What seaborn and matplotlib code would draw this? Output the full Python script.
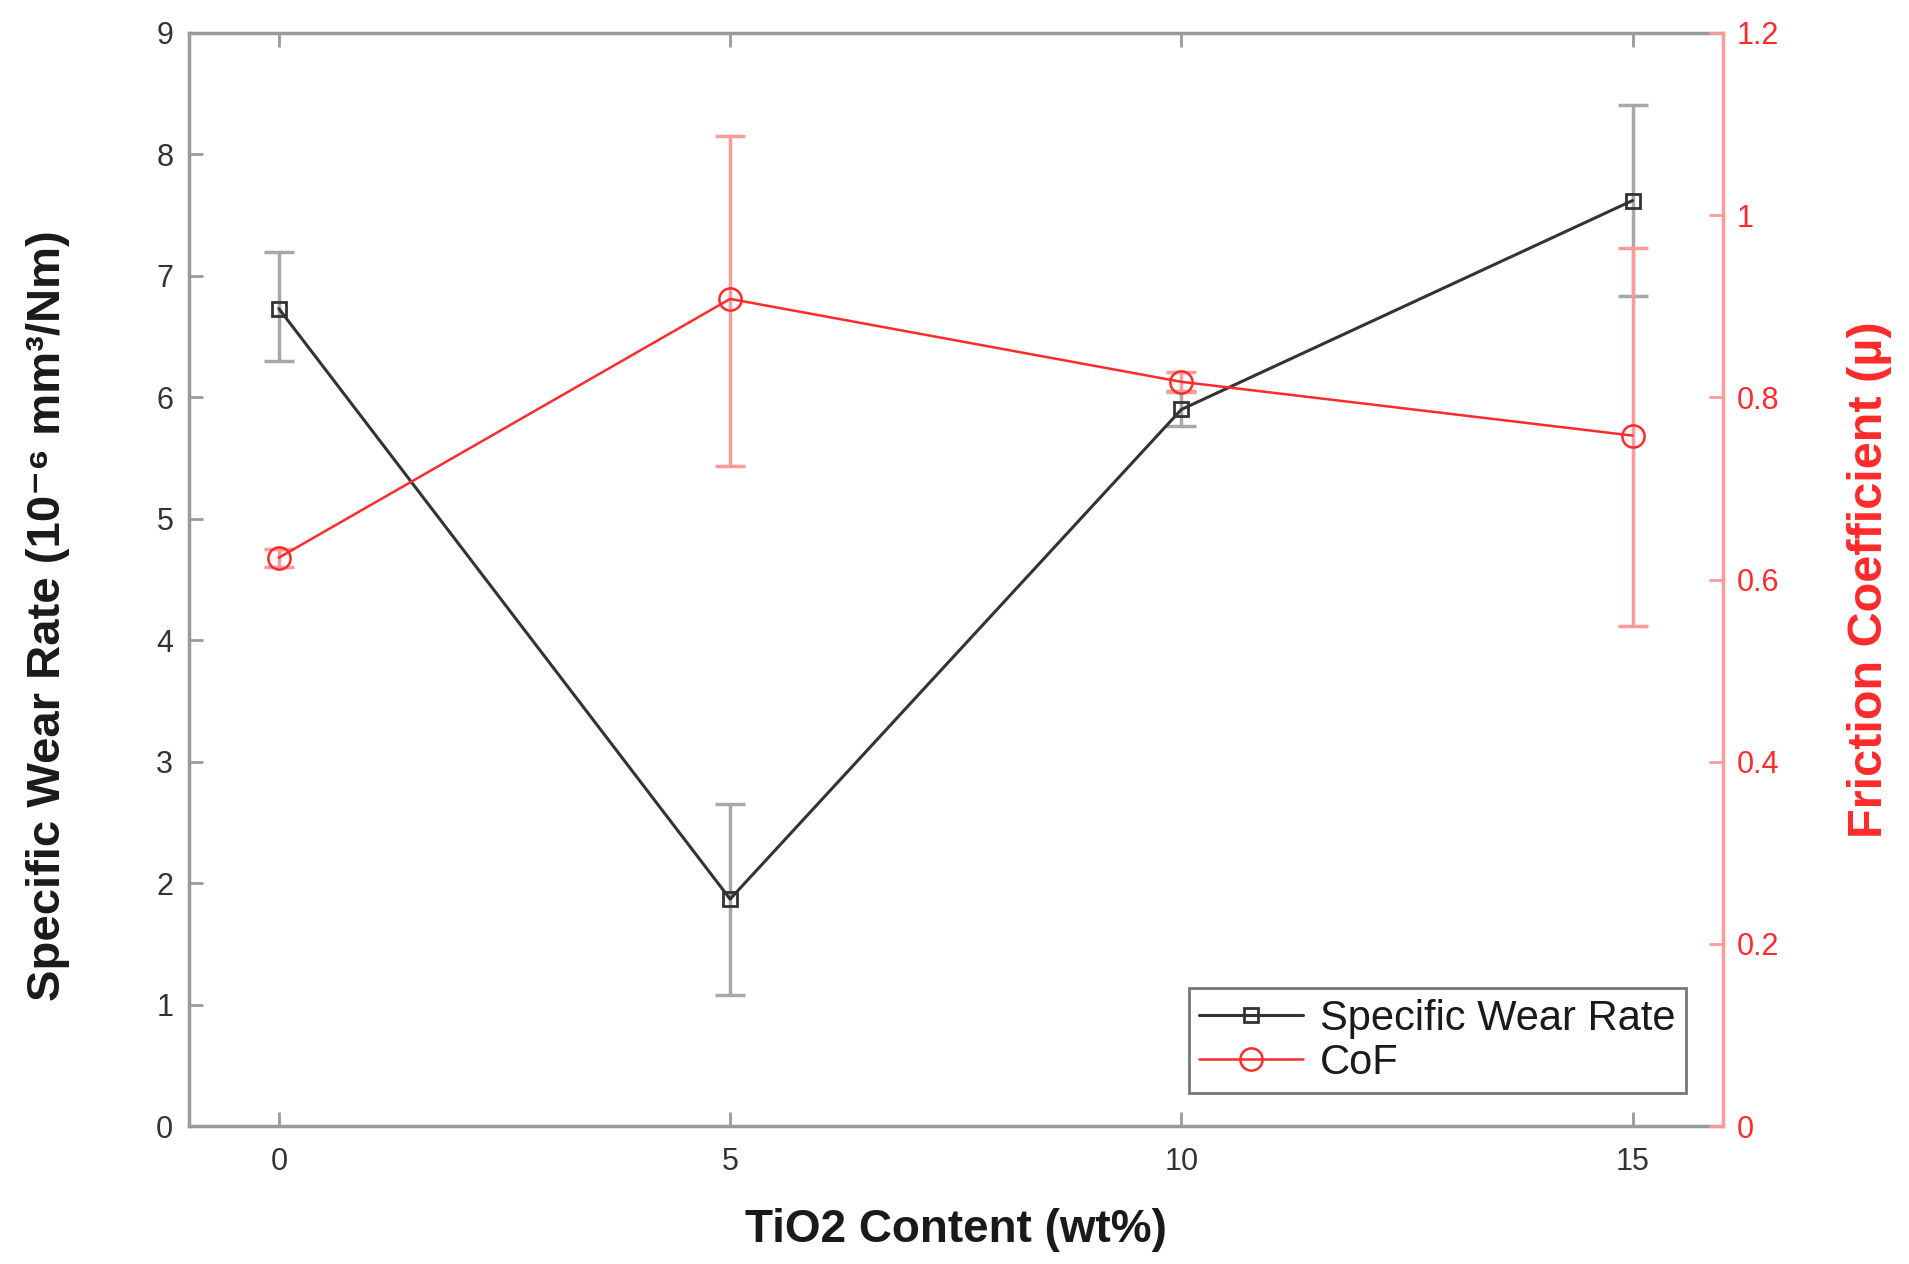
import numpy as np
import pandas as pd
import matplotlib
matplotlib.use("Agg")
import matplotlib.pyplot as plt
import seaborn as sns

# ---- data ----
tio2 = [0, 5, 10, 15]
wear = [6.73, 1.87, 5.90, 7.62]
wear_lo = [6.30, 1.08, 5.76, 6.83]
wear_hi = [7.20, 2.65, 6.05, 8.41]
cof = [0.624, 0.908, 0.817, 0.758]
cof_lo = [0.614, 0.725, 0.806, 0.549]
cof_hi = [0.634, 1.087, 0.828, 0.964]
x_ticks = [0, 5, 10, 15]
left_ticks = list(range(0, 10))
right_ticks = [0, 0.2, 0.4, 0.6, 0.8, 1.0, 1.2]
right_labels = ["0", "0.2", "0.4", "0.6", "0.8", "1", "1.2"]

sns.set_theme(style="white")
plt.rcParams['font.family'] = ['Liberation Sans', 'DejaVu Sans']

df = pd.DataFrame({"TiO2": tio2, "wear": wear, "cof": cof})

fig = plt.figure(figsize=(19.09, 12.64), dpi=100)
ax = fig.add_axes([0.0988, 0.109, 0.8037, 0.865])
ax2 = ax.twinx()

spine_gray = "#9a9a9a"
red = "#ff2a2a"
red_light = "#ff9a9a"

# error bars
werr = np.array([np.array(wear) - np.array(wear_lo), np.array(wear_hi) - np.array(wear)])
ax.errorbar(tio2, wear, yerr=werr, fmt='none', ecolor="#a8a8a8", elinewidth=2.5,
            capsize=11, capthick=2.5, zorder=2)
cerr = np.array([np.array(cof) - np.array(cof_lo), np.array(cof_hi) - np.array(cof)])
ax2.errorbar(tio2, cof, yerr=cerr, fmt='none', ecolor=red_light, elinewidth=2.5,
             capsize=11, capthick=2.5, zorder=2)

sns.lineplot(data=df, x="TiO2", y="wear", ax=ax, color="#333333", lw=2.2,
             marker="s", markersize=10, markerfacecolor="none",
             markeredgecolor="#333333", markeredgewidth=2, label="Specific Wear Rate",
             legend=False, zorder=3)
sns.lineplot(data=df, x="TiO2", y="cof", ax=ax2, color=red, lw=1.8,
             marker="o", markersize=16, markerfacecolor="none",
             markeredgecolor=red, markeredgewidth=1.8, label="CoF",
             legend=False, zorder=3)

ax.set_xlim(-1, 16)
ax.set_ylim(0, 9)
ax2.set_ylim(0, 1.2)
ax.set_xticks(x_ticks)
ax.set_yticks(left_ticks)
ax2.set_yticks(right_ticks)
ax2.set_yticklabels(right_labels)

for s in ["left", "top", "bottom"]:
    ax.spines[s].set_color(spine_gray)
    ax.spines[s].set_linewidth(2.5)
ax.spines["right"].set_visible(False)
for s in ["left", "top", "bottom"]:
    ax2.spines[s].set_visible(False)
ax2.spines["right"].set_color(red_light)
ax2.spines["right"].set_linewidth(2.5)

ax.tick_params(axis="x", which="both", direction="in", top=True, bottom=True,
               length=10, width=2, color=spine_gray, labelsize=22,
               labelcolor="#333333", pad=15)
ax.tick_params(axis="y", direction="in", left=True, right=False,
               length=10, width=2, color=spine_gray, labelsize=22,
               labelcolor="#333333", pad=11)
ax2.tick_params(axis="y", direction="in", right=True, left=False,
                length=10, width=2, color=red_light, labelsize=22,
                labelcolor=red, pad=10)

label_font = ['Liberation Sans', 'DejaVu Sans']
ax.set_xlabel("TiO2 Content (wt%)", fontsize=33, fontweight="bold",
              family=label_font, color="#1a1a1a", labelpad=22)
ax.set_ylabel("Specific Wear Rate (10⁻⁶ mm³/Nm)", fontsize=34, fontweight="bold",
              family=label_font, color="#1a1a1a")
ax2.set_ylabel("Friction Coefficient (µ)", fontsize=35, fontweight="bold",
               family=label_font, color=red)
ax2.yaxis.set_label_coords(1.081, 0.5)
ax.yaxis.set_label_coords(-0.077, 0.467)

h1, l1 = ax.get_legend_handles_labels()
h2, l2 = ax2.get_legend_handles_labels()
leg = ax2.legend(h1 + h2, l1 + l2, loc="lower right", bbox_to_anchor=(0.976, 0.03),
                 fontsize=30, frameon=True, fancybox=False, edgecolor="#555555",
                 handlelength=2.5, borderpad=0.25, labelspacing=0.1, handletextpad=0.4,
                 borderaxespad=0)
leg.get_frame().set_linewidth(2)
for t in leg.get_texts():
    t.set_color("#1a1a1a")

fig.savefig("out.png", dpi=100, facecolor="white")
